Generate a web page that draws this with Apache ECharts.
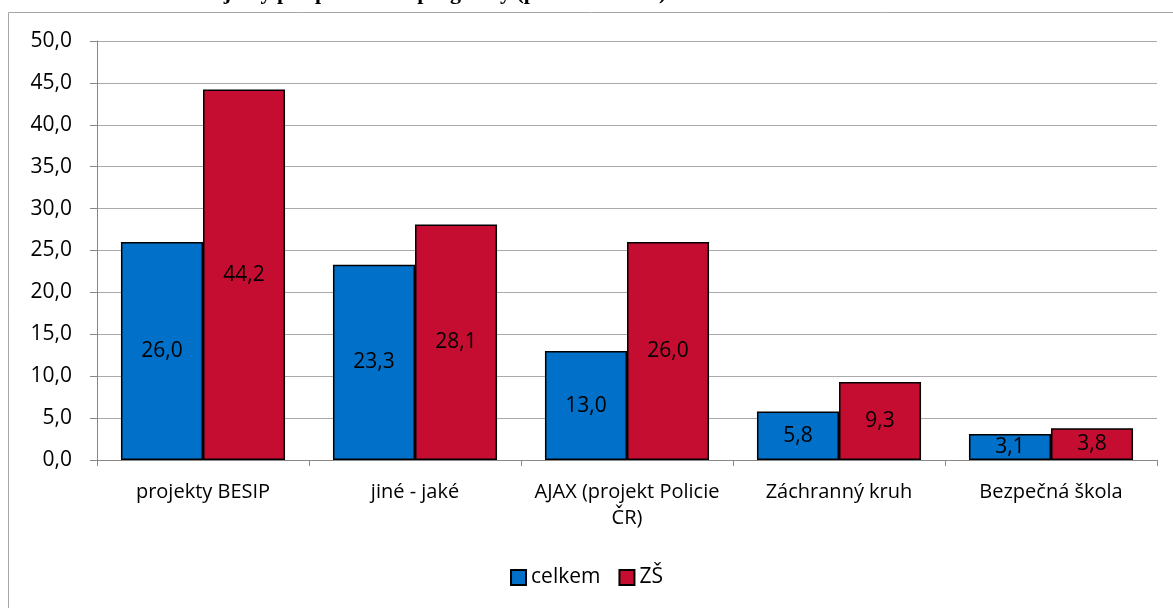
<!DOCTYPE html>
<html>
<head>
<meta charset="utf-8">
<script src="https://cdn.jsdelivr.net/npm/echarts@6/dist/echarts.min.js"></script>
<style>
html, body { margin: 0; padding: 0; background: #fff; }
#main { width: 1173px; height: 608px; }
</style>
</head>
<body>
<div id="main"></div>
<script>
var categories = ['projekty BESIP', 'jiné - jaké', 'AJAX (projekt Policie\nČR)', 'Záchranný kruh', 'Bezpečná škola'];
var celkem = [26.0, 23.3, 13.0, 5.8, 3.1];
var zs = [44.2, 28.1, 26.0, 9.3, 3.8];
var seriesNames = ['celkem', 'ZŠ'];

var myChart = echarts.init(document.getElementById('main'));

var fmt = function (v) { return v.toFixed(1).replace('.', ','); };

myChart.setOption({
	textStyle: { fontFamily: 'Open Sans' },
	title: {
		text: 'Projekty pro prevenci a programy (podíl škol v %)',
		left: 185,
		top: -23,
		textStyle: { fontFamily: 'Liberation Serif', fontWeight: 'bold', fontSize: 22, color: '#000' }
	},
	graphic: [{
		type: 'rect',
		shape: { x: 8.5, y: 12.5, width: 1200, height: 620 },
		style: { fill: null, stroke: '#a6a6a6', lineWidth: 1 },
		silent: true
	}],
	grid: { left: 97, right: 16, top: 41, bottom: 148 },
	legend: {
		data: seriesNames,
		bottom: 15,
		left: 'center',
		itemWidth: 15,
		itemHeight: 15,
		itemGap: 18,
		icon: 'rect',
		textStyle: { fontSize: 21, color: '#000', fontFamily: 'Open Sans' }
	},
	xAxis: {
		type: 'category',
		data: categories,
		axisLine: { lineStyle: { color: '#888' } },
		axisTick: { show: true, length: 6, lineStyle: { color: '#888' } },
		axisLabel: { fontSize: 20, color: '#000', margin: 19, lineHeight: 26, interval: 0 }
	},
	yAxis: {
		type: 'value',
		min: 0,
		max: 50,
		interval: 5,
		axisLine: { show: true, lineStyle: { color: '#888' } },
		axisTick: { show: true, length: 7, lineStyle: { color: '#888' } },
		splitLine: { lineStyle: { color: '#aaa' } },
		axisLabel: { fontSize: 21, color: '#000', margin: 25, formatter: fmt }
	},
	series: [
		{
			name: seriesNames[0],
			type: 'bar',
			data: celkem,
			barGap: '0%',
			barCategoryGap: '22.6%',
			itemStyle: { color: '#0070c8', borderColor: '#000', borderWidth: 1.5 },
			label: { show: true, position: 'inside', fontSize: 21, color: '#000', formatter: function (p) { return fmt(p.value); } }
		},
		{
			name: seriesNames[1],
			type: 'bar',
			data: zs,
			barGap: '0%',
			barCategoryGap: '22.6%',
			itemStyle: { color: '#c50d31', borderColor: '#000', borderWidth: 1.5 },
			label: { show: true, position: 'inside', fontSize: 21, color: '#000', formatter: function (p) { return fmt(p.value); } }
		}
	],
	animation: false
});
</script>
</body>
</html>
